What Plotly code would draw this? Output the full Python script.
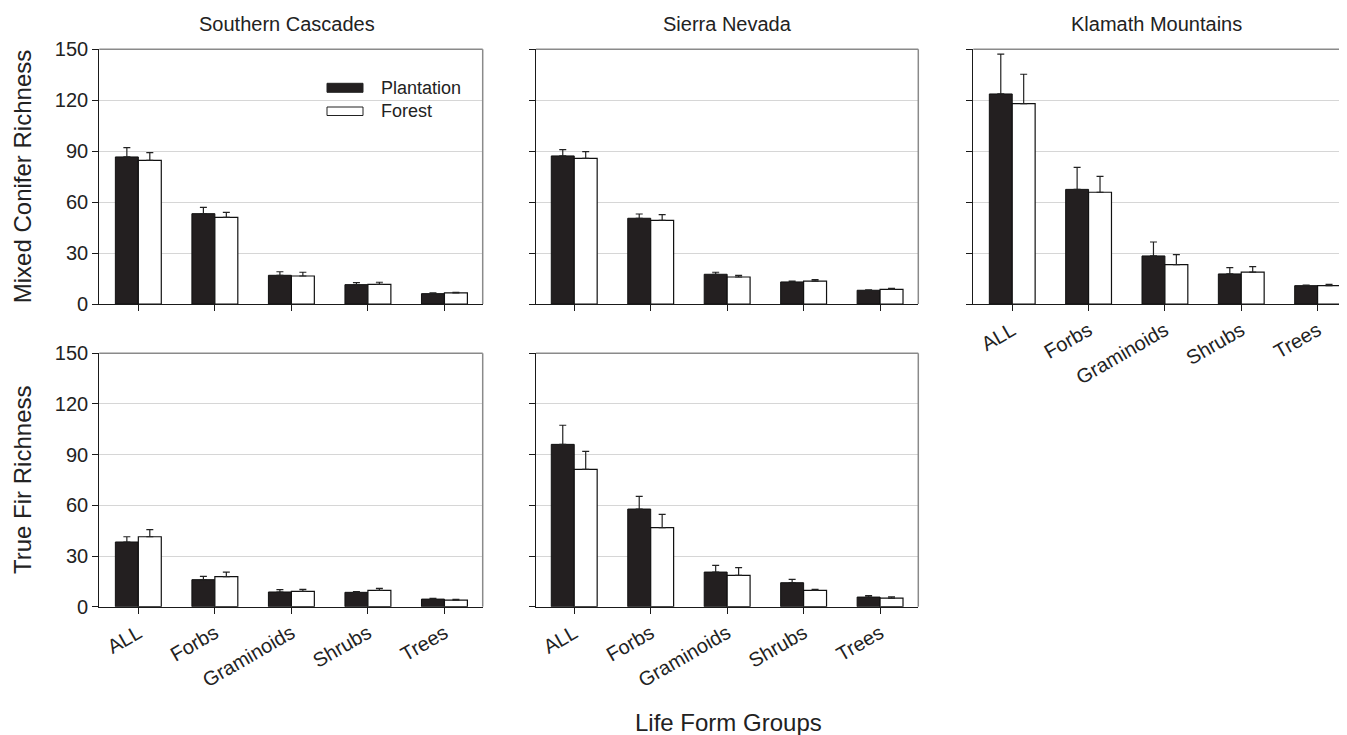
import plotly.graph_objects as go

W, H = 1347, 735
OFF = 8  # page body margin offset in the browser

categories = ["ALL", "Forbs", "Graminoids", "Shrubs", "Trees"]
y_ticks = [0, 30, 60, 90, 120, 150]

# Mixed Conifer
sc_mc_plant = [86.6, 53.2, 16.9, 11.4, 6.1]
sc_mc_plant_err = [5.5, 3.7, 2.1, 1.2, 0.4]
sc_mc_forest = [84.6, 51.0, 16.5, 11.6, 6.5]
sc_mc_forest_err = [4.5, 3.0, 2.2, 1.2, 0.4]

sn_mc_plant = [87.2, 50.5, 17.5, 13.0, 8.1]
sn_mc_plant_err = [3.7, 2.5, 1.2, 0.5, 0.3]
sn_mc_forest = [85.8, 49.3, 15.9, 13.5, 8.6]
sn_mc_forest_err = [3.9, 3.3, 1.0, 0.8, 0.6]

km_mc_plant = [123.7, 67.5, 28.3, 17.7, 10.8]
km_mc_plant_err = [23.4, 13.0, 8.2, 3.7, 0.4]
km_mc_forest = [118.0, 65.8, 23.2, 18.8, 10.8]
km_mc_forest_err = [17.3, 9.4, 5.9, 3.2, 0.8]

# True Fir
sc_tf_plant = [38.3, 16.0, 8.7, 8.5, 4.5]
sc_tf_plant_err = [3.1, 2.0, 1.4, 0.4, 0.4]
sc_tf_forest = [41.4, 17.8, 9.1, 9.7, 3.9]
sc_tf_forest_err = [4.2, 2.7, 1.2, 1.2, 0.4]

sn_tf_plant = [96.1, 57.8, 20.5, 14.2, 5.7]
sn_tf_plant_err = [11.3, 7.5, 4.0, 2.0, 0.8]
sn_tf_forest = [81.3, 46.8, 18.6, 9.7, 5.1]
sn_tf_forest_err = [10.7, 7.9, 4.5, 0.6, 0.8]

region_titles = ["Southern Cascades", "Sierra Nevada", "Klamath Mountains"]
row_titles = ["Mixed Conifer Richness", "True Fir Richness"]
x_title = "Life Form Groups"
series_names = ["Plantation", "Forest"]

FONT = "Liberation Sans, Arial, Helvetica, sans-serif"
TXT = "#222222"
DARK = "#231f20"


def px_x(p):
    return (p - OFF) / W


def px_y(p):
    return 1 - (p - OFF) / H


panels = [
    (1, sc_mc_plant, sc_mc_plant_err, sc_mc_forest, sc_mc_forest_err,
     (99.3, 482.7), (49.3, 304.0), [-0.51, 4.5], True, False, True),
    (2, sn_mc_plant, sn_mc_plant_err, sn_mc_forest, sn_mc_forest_err,
     (536.0, 918.3), (49.3, 304.0), [-0.5, 4.5], False, False, True),
    (3, km_mc_plant, km_mc_plant_err, km_mc_forest, km_mc_forest_err,
     (973.3, 1355.0), (49.3, 304.0), [-0.51, 4.49], False, True, False),
    (4, sc_tf_plant, sc_tf_plant_err, sc_tf_forest, sc_tf_forest_err,
     (99.3, 482.7), (353.3, 606.7), [-0.51, 4.5], True, True, True),
    (5, sn_tf_plant, sn_tf_plant_err, sn_tf_forest, sn_tf_forest_err,
     (536.0, 918.3), (353.3, 606.7), [-0.5, 4.5], False, True, True),
]

fig = go.Figure()
layout = dict(
    template="none",
    width=W, height=H,
    margin=dict(l=0, r=0, t=0, b=0, pad=0),
    paper_bgcolor="white", plot_bgcolor="white",
    barmode="group", bargap=0.4, bargroupgap=0.0,
    showlegend=False,
    font=dict(family=FONT, size=20, color=TXT),
)
shapes = []
annotations = []

for (i, pv, pe, fv, fe, xd, yd, xr, show_y, show_x, right_border) in panels:
    xa = "x" if i == 1 else f"x{i}"
    ya = "y" if i == 1 else f"y{i}"
    fig.add_trace(go.Bar(
        x=categories, y=pv, name=series_names[0], xaxis=xa, yaxis=ya,
        marker=dict(color=DARK, line=dict(color="#111111", width=1)),
        error_y=dict(type="data", array=pe, arrayminus=[0] * len(pe), symmetric=False,
                     color="#222222", thickness=1.2, width=3.5),
        offsetgroup="p",
    ))
    fig.add_trace(go.Bar(
        x=categories, y=fv, name=series_names[1], xaxis=xa, yaxis=ya,
        marker=dict(color="white", line=dict(color="#111111", width=1.2)),
        error_y=dict(type="data", array=fe, arrayminus=[0] * len(fe), symmetric=False,
                     color="#222222", thickness=1.2, width=3.5),
        offsetgroup="f",
    ))
    xkey = "xaxis" if i == 1 else f"xaxis{i}"
    ykey = "yaxis" if i == 1 else f"yaxis{i}"
    xd0, xd1 = px_x(xd[0]), min(1.0, px_x(xd[1]))
    layout[xkey] = dict(
        domain=[xd0, xd1], anchor=ya, automargin=False,
        type="category", categoryorder="array", categoryarray=categories,
        range=xr, showline=True, linecolor="#1a1a1a", linewidth=1.3,
        ticks="outside", ticklen=6, tickcolor="#1a1a1a", tickwidth=1,
        showticklabels=show_x, tickangle=-30,
        tickfont=dict(family=FONT, size=20, color=TXT),
        showgrid=False, zeroline=False, fixedrange=True,
    )
    layout[ykey] = dict(
        domain=[px_y(yd[1]), px_y(yd[0])], anchor=xa, automargin=False,
        range=[0, 150], tickvals=y_ticks,
        showline=True, linecolor="#1a1a1a", linewidth=1.3,
        ticks="outside", ticklen=6, tickcolor="#1a1a1a", tickwidth=1,
        showticklabels=show_y,
        tickfont=dict(family=FONT, size=20, color=TXT),
        showgrid=True, gridcolor="#d6d6d6", gridwidth=1,
        zeroline=False, fixedrange=True,
    )
    shapes.append(dict(type="line", xref=f"{xa} domain", yref=f"{ya} domain",
                       x0=0, x1=1, y0=1, y1=1, line=dict(color="#8a8a8a", width=1.5)))
    if right_border:
        shapes.append(dict(type="line", xref=f"{xa} domain", yref=f"{ya} domain",
                           x0=1, x1=1, y0=0, y1=1, line=dict(color="#8a8a8a", width=1.5)))

for t, cx in zip(region_titles, [287, 727, 1156]):
    annotations.append(dict(text=t, x=px_x(cx), y=px_y(24), xref="paper", yref="paper",
                            showarrow=False, xanchor="center", yanchor="middle",
                            font=dict(family=FONT, size=20, color=TXT)))

for t, cy in zip(row_titles, [176.7, 480.5]):
    annotations.append(dict(text=t, x=px_x(22.5), y=px_y(cy), xref="paper", yref="paper",
                            showarrow=False, textangle=-90, xanchor="center", yanchor="middle",
                            font=dict(family=FONT, size=24, color=TXT)))

annotations.append(dict(text=x_title, x=px_x(728), y=px_y(722), xref="paper", yref="paper",
                        showarrow=False, xanchor="center", yanchor="middle",
                        font=dict(family=FONT, size=24, color=TXT)))

leg_items = [(series_names[0], DARK, 83.3, 92.3), (series_names[1], "white", 107.0, 115.5)]
for name, col, y0, y1 in leg_items:
    shapes.append(dict(type="rect", xref="paper", yref="paper",
                       x0=px_x(327), x1=px_x(363), y0=px_y(y1), y1=px_y(y0),
                       fillcolor=col, line=dict(color="#222222", width=1)))
    annotations.append(dict(text=name, x=px_x(379), y=px_y((y0 + y1) / 2), xref="paper", yref="paper",
                            showarrow=False, xanchor="left", yanchor="middle",
                            font=dict(family=FONT, size=18, color=TXT)))

layout["shapes"] = shapes
layout["annotations"] = annotations
fig.update_layout(**layout)

fig.write_html("out.html")
